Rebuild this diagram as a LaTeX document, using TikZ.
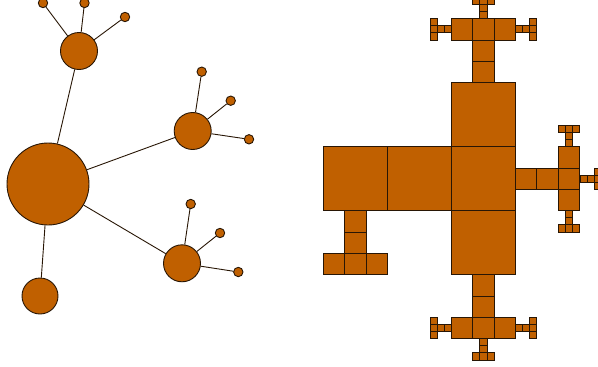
\documentclass[tikz,border=0pt]{standalone}
\definecolor{fillor}{RGB}{192,96,0}
\definecolor{edgec}{RGB}{40,22,5}
\tikzset{
  sq/.style={fill=fillor, draw=edgec, line width=0.9pt},
  bub/.style={circle, fill=fillor, draw=edgec, line width=0.9pt, inner sep=0pt},
  big/.style={bub, minimum size=82pt},
  mid/.style={bub, minimum size=37pt},
  leaf/.style={bub, minimum size=9.4pt},
  link/.style={draw=edgec, line width=0.9pt}
}
\newcommand\Tpiece[5]{%
  \foreach \t/\o in {0.5/0,1.5/0,2.5/0,2.5/1,2.5/-1}{%
    \pgfmathsetmacro\cx{#1+\t*#5*(#3)-\o*#5*(#4)}%
    \pgfmathsetmacro\cy{#2+\t*#5*(#4)+\o*#5*(#3)}%
    \filldraw[sq] (\cx-#5/2,\cy-#5/2) rectangle ++(#5,#5);
  }%
}
\begin{document}
\begin{tikzpicture}[x=1pt,y=-1pt]
\useasboundingbox (0,0) rectangle (598,367);
\clip (0,0) rectangle (598,367);
% left tree
\node[big] (r) at (48,184) {};
\node[mid] (c1) at (79,51) {};
\node[mid] (c2) at (192.7,131) {};
\node[mid] (c3) at (182,263.3) {};
\node[bub, minimum size=36pt] (c4) at (40,296) {};
\node[leaf] (g11) at (43,3) {};
\node[leaf] (g12) at (84.5,3) {};
\node[leaf] (g13) at (125,17) {};
\node[leaf] (g21) at (201.7,71.7) {};
\node[leaf] (g22) at (230.7,100.7) {};
\node[leaf] (g23) at (249,139.3) {};
\node[leaf] (g31) at (190.7,204) {};
\node[leaf] (g32) at (220,233) {};
\node[leaf] (g33) at (238.3,272) {};
\foreach \a/\b in {r/c1,r/c2,r/c3,r/c4,c1/g11,c1/g12,c1/g13,c2/g21,c2/g22,c2/g23,c3/g31,c3/g32,c3/g33}
  \draw[link] (\a) -- (\b);
% right square structure
\Tpiece{323.5}{178.7}{1}{0}{64}
\Tpiece{483.5}{82.7}{0}{-1}{21.333}
\Tpiece{515.5}{178.7}{1}{0}{21.333}
\Tpiece{483.5}{274.7}{0}{1}{21.333}
\Tpiece{355.5}{210.7}{0}{1}{21.333}
\Tpiece{483.5}{18.7}{0}{-1}{7.111}
\Tpiece{451.5}{29.37}{-1}{0}{7.111}
\Tpiece{515.5}{29.37}{1}{0}{7.111}
\Tpiece{580.17}{178.7}{1}{0}{7.111}
\Tpiece{568.83}{146.7}{0}{-1}{7.111}
\Tpiece{568.83}{210.7}{0}{1}{7.111}
\Tpiece{483.5}{338.7}{0}{1}{7.111}
\Tpiece{451.5}{328.03}{-1}{0}{7.111}
\Tpiece{515.5}{328.03}{1}{0}{7.111}
\end{tikzpicture}
\end{document}
